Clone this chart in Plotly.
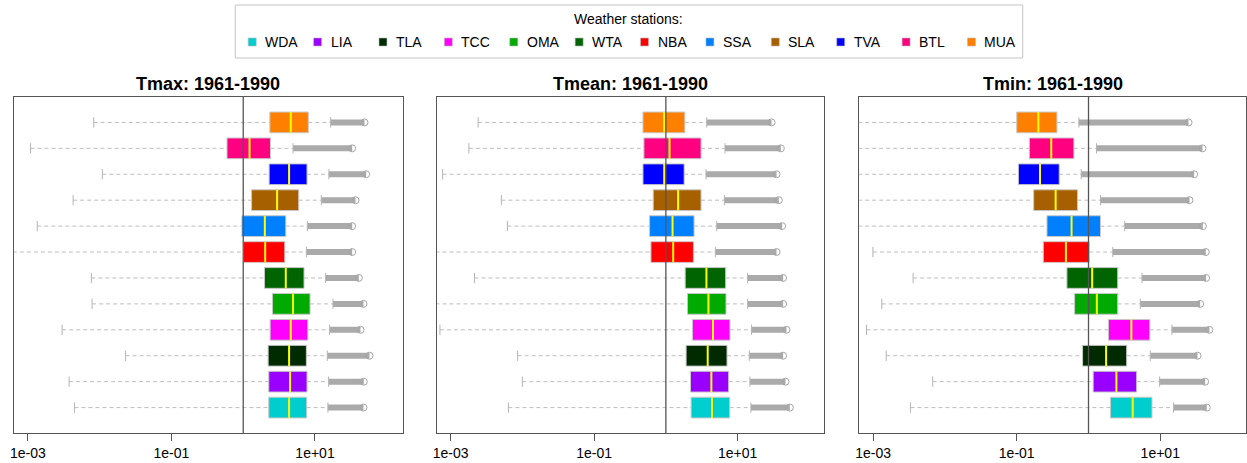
import numpy as np
import plotly.graph_objects as go

# ---------------- data (values stored as log10) ----------------
stations = ["WDA", "LIA", "TLA", "TCC", "OMA", "WTA", "NBA", "SSA", "SLA", "TVA", "BTL", "MUA"]
station_colors = ["#00CDCD", "#9900FF", "#002B00", "#FF00FF", "#00AA00", "#006400",
                  "#FF0000", "#0080FF", "#A66000", "#0000FF", "#FF0080", "#FF8000"]
panel_titles = ["Tmax: 1961-1990", "Tmean: 1961-1990", "Tmin: 1961-1990"]
tick_values = [1e-3, 1e-1, 1e1]
tick_labels = ["1e-03", "1e-01", "1e+01"]
reference_value = 1.0

# Tmax (log10 units), stations in the order above
tmax_lower_log10 = [-2.352, -2.426, -1.639, -2.523, -2.106, -2.116, -3.6, -2.870, -2.370, -1.963, -2.963, -2.083]
tmax_q1_log10 = [0.356, 0.356, 0.347, 0.375, 0.407, 0.296, 0.004, -0.018, 0.116, 0.361, -0.226, 0.371]
tmax_median_log10 = [0.639, 0.653, 0.639, 0.662, 0.694, 0.593, 0.306, 0.301, 0.472, 0.639, 0.088, 0.662]
tmax_q3_log10 = [0.884, 0.889, 0.880, 0.898, 0.931, 0.847, 0.579, 0.593, 0.773, 0.889, 0.380, 0.907]
tmax_upper_log10 = [1.180, 1.190, 1.171, 1.204, 1.250, 1.148, 0.880, 0.893, 1.088, 1.194, 0.694, 1.218]
tmax_max_log10 = [1.676, 1.680, 1.759, 1.634, 1.676, 1.611, 1.518, 1.518, 1.565, 1.713, 1.518, 1.690]

# Tmean
tmean_lower_log10 = [-2.194, -2.000, -2.065, -3.148, -3.6, -2.667, -3.6, -2.208, -2.292, -3.111, -2.745, -2.616]
tmean_q1_log10 = [0.352, 0.343, 0.282, 0.370, 0.301, 0.269, -0.208, -0.227, -0.176, -0.319, -0.306, -0.319]
tmean_median_log10 = [0.643, 0.634, 0.583, 0.657, 0.593, 0.565, 0.102, 0.093, 0.171, -0.023, 0.051, -0.023]
tmean_q3_log10 = [0.889, 0.875, 0.852, 0.893, 0.838, 0.833, 0.384, 0.393, 0.490, 0.255, 0.490, 0.264]
tmean_upper_log10 = [1.185, 1.171, 1.162, 1.194, 1.139, 1.139, 0.690, 0.708, 0.815, 0.560, 0.824, 0.569]
tmean_max_log10 = [1.727, 1.667, 1.634, 1.680, 1.634, 1.634, 1.542, 1.620, 1.574, 1.542, 1.602, 1.472]

# Tmin
tmin_lower_log10 = [-2.481, -2.171, -2.819, -3.093, -2.880, -2.444, -3.004, -3.6, -3.6, -3.6, -3.6, -3.6]
tmin_q1_log10 = [0.306, 0.065, -0.083, 0.278, -0.194, -0.301, -0.630, -0.579, -0.764, -0.977, -0.824, -1.000]
tmin_median_log10 = [0.616, 0.389, 0.245, 0.597, 0.116, 0.051, -0.315, -0.236, -0.458, -0.676, -0.519, -0.699]
tmin_q3_log10 = [0.884, 0.671, 0.532, 0.852, 0.407, 0.407, 0.009, 0.167, -0.153, -0.408, -0.204, -0.440]
tmin_upper_log10 = [1.185, 0.991, 0.861, 1.162, 0.722, 0.745, 0.338, 0.504, 0.167, -0.102, 0.111, -0.134]
tmin_max_log10 = [1.648, 1.625, 1.519, 1.685, 1.556, 1.639, 1.634, 1.593, 1.407, 1.472, 1.588, 1.394]

panels = [
    dict(lower=tmax_lower_log10, q1=tmax_q1_log10, med=tmax_median_log10, q3=tmax_q3_log10,
         up=tmax_upper_log10, mx=tmax_max_log10),
    dict(lower=tmean_lower_log10, q1=tmean_q1_log10, med=tmean_median_log10, q3=tmean_q3_log10,
         up=tmean_upper_log10, mx=tmean_max_log10),
    dict(lower=tmin_lower_log10, q1=tmin_q1_log10, med=tmin_median_log10, q3=tmin_q3_log10,
         up=tmin_upper_log10, mx=tmin_max_log10),
]

# ---------------- layout constants ----------------
W, H = 1247, 463
FONT = "Liberation Sans, Arial, sans-serif"
panel_px = [(10, 400), (434, 823), (858, 1246)]
plot_top, plot_bottom = 97, 433
px_per_decade = 72.0
left_log = -3 - 14 / px_per_decade
half_box = 0.4
half_cap = 0.2


def to_val(a):
    return np.power(10.0, np.asarray(a, dtype=float))


fig = go.Figure()
y_pos = np.arange(1, len(stations) + 1)

for p, d in enumerate(panels):
    xa = "x" if p == 0 else f"x{p + 1}"
    ya = "y" if p == 0 else f"y{p + 1}"
    lo, q1, md, q3, up, mx = (to_val(d[k]) for k in ("lower", "q1", "med", "q3", "up", "mx"))

    # dashed whiskers
    wx, wy = [], []
    for i, yy in enumerate(y_pos):
        wx += [lo[i], q1[i], None, q3[i], up[i], None]
        wy += [yy, yy, None, yy, yy, None]
    fig.add_trace(go.Scatter(x=wx, y=wy, mode="lines", xaxis=xa, yaxis=ya, hoverinfo="skip",
                             showlegend=False,
                             line=dict(color="#BEBEBE", width=1, dash="4px,3px")))

    # outliers: dense band of points from the upper whisker to the maximum
    bx, by = [], []
    for i, yy in enumerate(y_pos):
        bx += [up[i], mx[i], None]
        by += [yy, yy, None]
    fig.add_trace(go.Scatter(x=bx, y=by, mode="lines", xaxis=xa, yaxis=ya, hoverinfo="skip",
                             showlegend=False, line=dict(color="#AAAAAA", width=6)))
    fig.add_trace(go.Scatter(x=mx, y=y_pos, mode="markers", xaxis=xa, yaxis=ya, hoverinfo="skip",
                             showlegend=False,
                             marker=dict(symbol="circle-open", size=7, color="#A6A6A6",
                                         line=dict(width=1, color="#A6A6A6"))))

    # whisker caps
    cx, cy = [], []
    for i, yy in enumerate(y_pos):
        for v in (lo[i], up[i]):
            cx += [v, v, None]
            cy += [yy - half_cap, yy + half_cap, None]
    fig.add_trace(go.Scatter(x=cx, y=cy, mode="lines", xaxis=xa, yaxis=ya, hoverinfo="skip",
                             showlegend=False, line=dict(color="#B4B4B4", width=1)))

    # boxes
    for i, yy in enumerate(y_pos):
        fig.add_trace(go.Scatter(
            x=[q1[i], q3[i], q3[i], q1[i], q1[i]],
            y=[yy - half_box, yy - half_box, yy + half_box, yy + half_box, yy - half_box],
            mode="lines", fill="toself", fillcolor=station_colors[i],
            line=dict(color="#C8C8C8", width=1), xaxis=xa, yaxis=ya,
            name=stations[i], showlegend=False, hoverinfo="skip"))

    # medians
    mxs, mys = [], []
    for i, yy in enumerate(y_pos):
        mxs += [md[i], md[i], None]
        mys += [yy - half_box, yy + half_box, None]
    fig.add_trace(go.Scatter(x=mxs, y=mys, mode="lines", xaxis=xa, yaxis=ya, hoverinfo="skip",
                             showlegend=False, line=dict(color="#FFFF00", width=2)))

    # reference line at 1
    fig.add_shape(type="line", xref=xa, yref=f"{ya} domain", x0=reference_value, x1=reference_value,
                  y0=0, y1=1, layer="above", line=dict(color="#555555", width=1.3))

    # axes
    x0px, x1px = panel_px[p]
    right_log = left_log + (x1px - x0px) / px_per_decade
    ax_name = "xaxis" if p == 0 else f"xaxis{p + 1}"
    ay_name = "yaxis" if p == 0 else f"yaxis{p + 1}"
    fig.update_layout(**{
        ax_name: dict(type="log", range=[left_log, right_log],
                      domain=[x0px / W, x1px / W], anchor=ya,
                      showline=True, mirror=True, linecolor="#555555", linewidth=1,
                      ticks="outside", ticklen=7, tickcolor="#555555", tickwidth=1,
                      tickvals=tick_values, ticktext=tick_labels,
                      tickfont=dict(family=FONT, size=14, color="#000000"),
                      showgrid=False, zeroline=False, fixedrange=True),
        ay_name: dict(range=[0.02, len(stations) + 0.98],
                      domain=[1 - plot_bottom / H, 1 - plot_top / H], anchor=xa,
                      showline=True, mirror=True, linecolor="#555555", linewidth=1,
                      showticklabels=False, ticks="", showgrid=False, zeroline=False,
                      fixedrange=True),
    })

    # panel title
    fig.add_annotation(text=f"<b>{panel_titles[p]}</b>", xref="paper", yref="paper",
                       x=(x0px + x1px) / 2 / W, y=1 - 84 / H, xanchor="center", yanchor="middle",
                       showarrow=False, font=dict(family=FONT, size=18, color="#000000"))

# ---------------- legend (drawn as a framed key) ----------------
fig.add_shape(type="rect", xref="paper", yref="paper",
              x0=232 / W, x1=1022 / W, y0=1 - 58 / H, y1=1 - 5 / H,
              line=dict(color="#C4C4C4", width=1), fillcolor="white", layer="below")
fig.add_annotation(text="Weather stations:", xref="paper", yref="paper",
                   x=627 / W, y=1 - 19 / H, xanchor="center", yanchor="middle", showarrow=False,
                   font=dict(family=FONT, size=14, color="#000000"))
for i, name in enumerate(stations):
    tx = 260 + 65.6 * i
    sx = tx - 11
    fig.add_shape(type="rect", xref="paper", yref="paper",
                  x0=(sx - 4) / W, x1=(sx + 4) / W, y0=1 - 46 / H, y1=1 - 38 / H,
                  line=dict(color="#BBBBBB", width=0.6), fillcolor=station_colors[i])
    fig.add_annotation(text=name, xref="paper", yref="paper", x=tx / W, y=1 - 42 / H,
                       xanchor="left", yanchor="middle", showarrow=False,
                       font=dict(family=FONT, size=14, color="#000000"))

fig.update_layout(width=W, height=H, margin=dict(l=0, r=0, t=0, b=0),
                  paper_bgcolor="white", plot_bgcolor="white", showlegend=False,
                  font=dict(family=FONT, size=14, color="#000000"))

fig.write_html("out.html", config={"displayModeBar": False})
